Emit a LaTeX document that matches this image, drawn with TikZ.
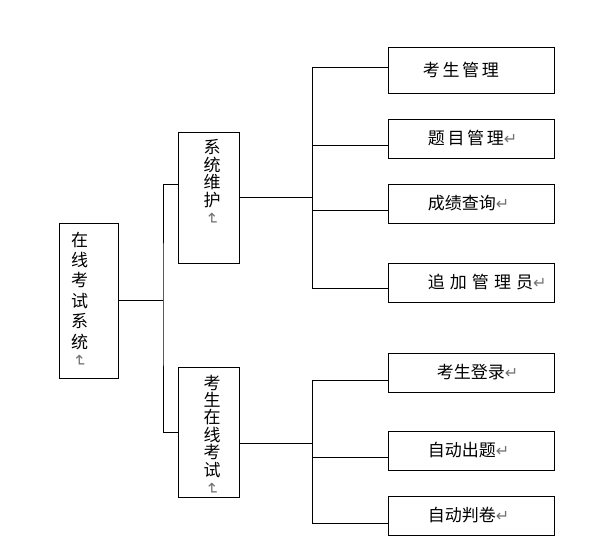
\documentclass[tikz,border=0pt]{standalone}
\usepackage{fontspec}
\usepackage{graphicx}
\setmainfont{Noto Sans CJK SC}
\newfontfamily\dejavu{DejaVu Sans}
\usetikzlibrary{calc}
\newcommand{\retmark}{{\color{black!55}\dejavu\fontsize{16}{16}\selectfont ↵}}
\newcommand{\vretmark}{\rotatebox[origin=c]{-90}{\retmark}}
\tikzset{
  box/.style={draw, line width=0.8pt, inner sep=0pt},
  leafbox/.style={box, minimum width=166pt, minimum height=39pt},
  txt/.style={inner sep=0pt, anchor=west, font=\fontsize{17}{20}\selectfont},
  vtxt/.style={inner sep=0pt, anchor=north, align=center, font=\fontsize{17}{17.4}\selectfont},
  link/.style={line width=0.8pt}
}

\begin{document}
\begin{tikzpicture}[x=1pt,y=-1pt]
\useasboundingbox (0,0) rectangle (595,555);
% left column
\node[box, minimum width=59pt, minimum height=155pt] (root) at (88.5,300.5) {};
\node[vtxt, font=\fontsize{17}{20.4}\selectfont] at ([xshift=-9pt,yshift=-9pt]root.north) {在\\线\\考\\试\\系\\统\\[-2pt]\vretmark};
\node[box, minimum width=61pt, minimum height=131pt] (sys) at (208.5,197.5) {};
\node[vtxt] at ([xshift=3.5pt,yshift=-8pt]sys.north) {系\\统\\维\\护\\[1pt]\vretmark};
\node[box, minimum width=61pt, minimum height=130pt] (exam) at (208.5,432) {};
\node[vtxt] at ([xshift=3.5pt,yshift=-8pt]exam.north) {考\\生\\在\\线\\考\\试\\[1pt]\vretmark};
% right column
\node[leafbox, minimum height=46pt] (r1) at (471,70) {};
\node[txt, font=\fontsize{17}{20}\selectfont\addfontfeature{LetterSpace=16}] at ([xshift=35pt]r1.west) {考生管理};
\node[leafbox] (r2) at (471,138.5) {};
\node[txt, font=\fontsize{17}{20}\selectfont\addfontfeature{LetterSpace=16}] at ([xshift=40pt]r2.west) {题目管理\retmark};
\node[leafbox] (r3) at (471,203.5) {};
\node[txt] at ([xshift=40pt]r3.west) {成绩查询\retmark};
\node[leafbox] (r4) at (471,282.5) {};
\node[txt, font=\fontsize{17}{20}\selectfont\addfontfeature{LetterSpace=30}] at ([xshift=40pt]r4.west) {追加管理员\retmark};
\node[leafbox] (r5) at (471,372.5) {};
\node[txt] at ([xshift=49pt]r5.west) {考生登录\retmark};
\node[leafbox] (r6) at (471,450.5) {};
\node[txt] at ([xshift=40pt]r6.west) {自动出题\retmark};
\node[leafbox] (r7) at (471,515.5) {};
\node[txt] at ([xshift=40pt]r7.west) {自动判卷\retmark};
% connectors
\coordinate (fork1) at (163,300.5);
\coordinate (fork2) at (312,197.5);
\coordinate (fork3) at (312,443);
\draw[link] (root.east) -- (fork1);
\draw[link] ([yshift=13.5pt]sys.west) -| (fork1) |- (exam.west);
\draw[link] (sys.east) -- (fork2);
\foreach \n/\s in {r1/3,r2/-6.5,r3/-6.5,r4/-5.5}
  \draw[link] ([yshift=\s pt]\n.west) -| (fork2);
\draw[link] ([yshift=-11pt]exam.east) -- (fork3);
\foreach \n/\s in {r5/-7.5,r6/-6.5,r7/-7.5}
  \draw[link] ([yshift=\s pt]\n.west) -| (fork3);
\end{tikzpicture}
\end{document}
